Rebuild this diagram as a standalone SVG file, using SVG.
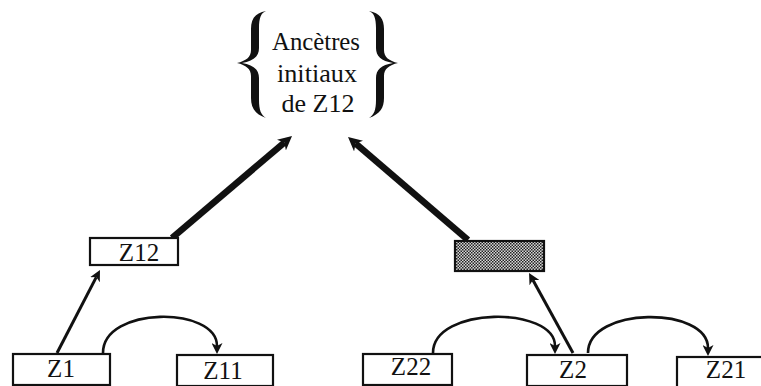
<svg xmlns="http://www.w3.org/2000/svg" width="761" height="386" viewBox="0 0 761 386">
<style>
.box{fill:#fff;stroke:#111;stroke-width:2.2}
.lbl{font-family:'Liberation Serif','DejaVu Serif',serif;font-size:25px;fill:#111;text-anchor:middle}
.thick{stroke:#111;stroke-width:6.5;fill:none;marker-end:url(#hb)}
.thin{stroke:#111;stroke-width:3;fill:none;marker-end:url(#hs)}
.curve{stroke:#111;stroke-width:2.6;fill:none;marker-end:url(#hs)}
.brace{fill:#111}
</style>
<defs>
<marker id="hb" viewBox="0 0 14 14" refX="4" refY="7" markerWidth="14" markerHeight="14" markerUnits="userSpaceOnUse" orient="auto">
<path d="M0,0 L14,7 L0,14 L4,7 z" fill="#111"/>
</marker>
<marker id="hs" viewBox="0 0 11 11" refX="3" refY="5.5" markerWidth="11" markerHeight="11" markerUnits="userSpaceOnUse" orient="auto">
<path d="M0,0 L11,5.5 L0,11 L3,5.5 z" fill="#111"/>
</marker>
<pattern id="dots" width="3" height="3" patternUnits="userSpaceOnUse">
<rect width="3" height="3" fill="#d8d8d8"/>
<rect x="0" y="0" width="1.5" height="1.5" fill="#222"/>
<rect x="1.5" y="1.5" width="1.5" height="1.5" fill="#222"/>
</pattern>
<path id="lb" d="M266,11 C255,13 251,19 251,29 L251,50 C251,57 246,61 237,63 C246,65 251,69 251,76 L251,98 C251,108 255,114 266,118 C261,115 259,110 259,100 L259,78 C259,70 254,65 242,63 C254,61 259,56 259,48 L259,28 C259,18 261,13 266,11 Z"/>
</defs>
<g id="ancetres">
<use href="#lb" class="brace"/>
<use href="#lb" class="brace" transform="translate(635,0) scale(-1,1)"/>
<text class="lbl" x="316" y="50" textLength="88" lengthAdjust="spacingAndGlyphs">Ancètres</text>
<text class="lbl" x="317" y="82" textLength="80" lengthAdjust="spacingAndGlyphs">initiaux</text>
<text class="lbl" x="318" y="112" textLength="73" lengthAdjust="spacingAndGlyphs">de Z12</text>
</g>
<g id="connectors">
<line class="thick" x1="172" y1="238" x2="284.4" y2="142.5"/>
<line class="thick" x1="468" y1="240" x2="355.6" y2="143.5"/>
<line class="thin" x1="57" y1="353" x2="96.3" y2="277.1"/>
<line class="thin" x1="573" y1="353" x2="532.9" y2="280"/>
<path class="curve" d="M103,353 C103,306 217,306 217,346"/>
<path class="curve" d="M433,353 C433,306 555,306 555,346"/>
<path class="curve" d="M588,353 C588,306 708,306 708,348"/>
</g>
<g id="z12">
<rect class="box" x="90" y="238" width="88" height="27"/>
<text class="lbl" x="139" y="261">Z12</text>
</g>
<g id="shaded">
<rect x="455" y="241" width="89" height="30" fill="url(#dots)" stroke="#111" stroke-width="2.2"/>
</g>
<g id="z1">
<rect class="box" x="13" y="354" width="97" height="31"/>
<text class="lbl" x="61" y="377">Z1</text>
</g>
<g id="z11">
<rect class="box" x="177" y="355" width="96" height="31"/>
<text class="lbl" x="223" y="379">Z11</text>
</g>
<g id="z22">
<rect class="box" x="363" y="354" width="89" height="31"/>
<text class="lbl" x="411" y="375">Z22</text>
</g>
<g id="z2">
<rect class="box" x="527" y="355" width="100" height="31"/>
<text class="lbl" x="573" y="378">Z2</text>
</g>
<g id="z21">
<rect class="box" x="677" y="357" width="95" height="31"/>
<text class="lbl" x="726" y="378">Z21</text>
</g>
</svg>
